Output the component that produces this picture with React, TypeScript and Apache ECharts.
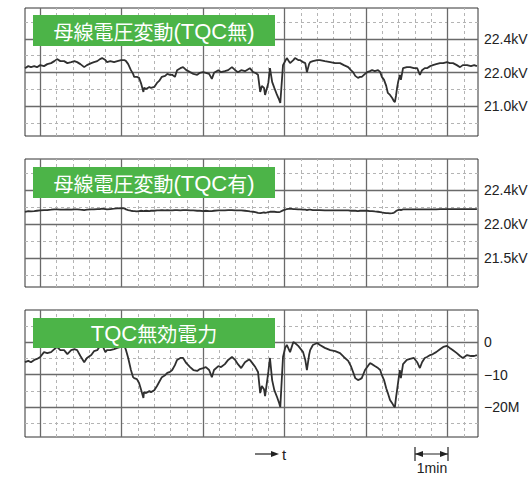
import React, { useEffect, useRef } from "react";
import * as echarts from "echarts";

// time axis in seconds (one minor division = 30 s, one major = 150 s)
const timeSec = [
  -28, -22, -17, -11, -6, 0, 7, 13, 20, 26,
  31, 37, 44, 50, 57, 63, 68, 74, 81, 86,
  94, 99, 105, 110, 114, 120, 123, 129, 136, 142,
  149, 155, 158, 162, 167, 171, 173, 178, 182, 186,
  190, 191, 195, 201, 204, 210, 215, 219, 224, 230,
  234, 239, 243, 248, 252, 258, 263, 269, 276, 282,
  289, 294, 300, 305, 311, 316, 320, 328, 333, 340,
  346, 353, 359, 364, 370, 377, 383, 386, 392, 396,
  401, 405, 408, 412, 414, 418, 420, 423, 427, 431,
  436, 440, 442, 447, 451, 454, 460, 466, 469, 475,
  478, 484, 488, 491, 495, 497, 502, 510, 515, 524,
  534, 543, 552, 559, 567, 572, 576, 580, 585, 589,
  592, 598, 602, 607, 611, 616, 622, 626, 629, 633,
  637, 640, 644, 648, 651, 653, 655, 657, 659, 662,
  664, 668, 675, 681, 688, 694, 699, 703, 708, 712,
  718, 723, 729, 736, 742, 749, 754, 760, 767, 773,
  778, 786, 793, 799, 804,
];

// bus voltage without TQC (chart divisions: 0 = 21.0kV, 1 = 22.0kV, 2 = 22.4kV)
const busVoltageNoTqc = [
  1.13, 1.19, 1.16, 1.19, 1.16, 1.22, 1.19, 1.25, 1.28, 1.34,
  1.4, 1.34, 1.34, 1.28, 1.31, 1.34, 1.31, 1.25, 1.16, 1.22,
  1.28, 1.31, 1.34, 1.4, 1.43, 1.37, 1.31, 1.34, 1.31, 1.34,
  1.37, 1.37, 1.34, 1.25, 1.07, 0.96, 0.87, 0.87, 0.84, 0.66,
  0.42, 0.54, 0.51, 0.57, 0.54, 0.57, 0.69, 0.75, 0.87, 0.9,
  0.96, 0.93, 0.93, 0.87, 1.07, 1.13, 1.16, 1.07, 1.01, 0.96,
  0.93, 0.99, 1.01, 0.99, 0.96, 0.81, 0.99, 1.07, 1.01, 1.04,
  1.07, 1.16, 1.07, 1.01, 1.07, 1.04, 1.1, 1.13, 1.01, 0.99,
  0.93, 0.42, 0.6, 0.54, 0.33, 0.57, 0.69, 1.13, 0.72, 0.54,
  0.33, 0.18, 0.09, 1.22, 1.34, 1.43, 1.28, 1.37, 1.43, 1.37,
  1.37, 1.31, 1.28, 1.01, 1.25, 1.31, 1.34, 1.37, 1.37, 1.34,
  1.31, 1.28, 1.28, 1.22, 1.16, 1.07, 1.01, 0.9, 0.84, 0.87,
  0.87, 0.96, 1.01, 1.04, 1.07, 1.04, 1.07, 1.01, 0.87, 0.78,
  0.6, 0.39, 0.33, 0.24, 0.15, 0.12, 0.3, 0.54, 0.72, 0.93,
  0.78, 1.13, 1.16, 1.16, 1.13, 1.13, 0.93, 1.07, 1.13, 1.13,
  1.19, 1.22, 1.25, 1.28, 1.28, 1.31, 1.28, 1.28, 1.22, 1.16,
  1.22, 1.22, 1.19, 1.22, 1.19,
];

// bus voltage with TQC (chart divisions: 0 = 21.5kV, 1 = 22.0kV, 2 = 22.4kV)
const busVoltageTqc = [
  1.36, 1.38, 1.37, 1.38, 1.39, 1.4, 1.41, 1.41, 1.42, 1.43,
  1.43, 1.42, 1.42, 1.43, 1.42, 1.43, 1.43, 1.42, 1.41, 1.42,
  1.43, 1.43, 1.44, 1.44, 1.45, 1.44, 1.43, 1.44, 1.45, 1.46,
  1.47, 1.46, 1.43, 1.41, 1.39, 1.38, 1.38, 1.37, 1.38, 1.39,
  1.38, 1.38, 1.39, 1.38, 1.39, 1.39, 1.4, 1.4, 1.41, 1.4,
  1.41, 1.4, 1.4, 1.41, 1.41, 1.4, 1.41, 1.41, 1.4, 1.4,
  1.39, 1.39, 1.38, 1.39, 1.38, 1.38, 1.39, 1.4, 1.4, 1.4,
  1.41, 1.41, 1.4, 1.4, 1.4, 1.39, 1.38, 1.37, 1.36, 1.35,
  1.33, 1.32, 1.33, 1.34, 1.33, 1.34, 1.35, 1.36, 1.36, 1.36,
  1.35, 1.35, 1.36, 1.4, 1.42, 1.44, 1.45, 1.44, 1.44, 1.43,
  1.43, 1.42, 1.42, 1.41, 1.42, 1.42, 1.41, 1.41, 1.41, 1.4,
  1.4, 1.4, 1.4, 1.4, 1.4, 1.39, 1.39, 1.39, 1.38, 1.39,
  1.39, 1.39, 1.39, 1.38, 1.38, 1.37, 1.36, 1.35, 1.34, 1.33,
  1.32, 1.32, 1.31, 1.32, 1.33, 1.35, 1.38, 1.4, 1.41, 1.42,
  1.41, 1.43, 1.43, 1.43, 1.43, 1.43, 1.43, 1.43, 1.43, 1.43,
  1.43, 1.43, 1.43, 1.44, 1.44, 1.44, 1.44, 1.44, 1.44, 1.44,
  1.44, 1.44, 1.44, 1.44, 1.44,
];

// TQC reactive power (Mvar)
const tqcReactivePower = [
  -6.2, -5.8, -6.2, -5.5, -5.2, -4.6, -3.1, -3.4, -3.1, -2.2,
  -1.5, -2.5, -2.5, -3.7, -2.5, -2.2, -2.5, -4.3, -6.2, -4.9,
  -4.0, -2.8, -2.5, -1.2, -0.9, -3.1, -2.5, -2.5, -2.2, -1.8,
  -1.5, -1.2, -2.5, -4.9, -8.6, -10.8, -11.1, -11.4, -12.6, -14.8,
  -17.2, -15.4, -15.7, -15.1, -15.4, -14.8, -13.5, -12.3, -10.8, -10.2,
  -9.5, -9.2, -8.6, -7.1, -5.5, -4.9, -4.9, -6.5, -7.7, -8.6,
  -8.9, -8.3, -8.0, -7.7, -8.6, -10.8, -8.6, -7.4, -7.7, -6.8,
  -5.5, -4.6, -5.5, -6.8, -8.0, -6.2, -5.5, -5.5, -6.8, -7.7,
  -9.2, -15.7, -13.5, -14.5, -16.6, -11.7, -9.2, -4.9, -11.7, -14.8,
  -16.9, -18.8, -20.0, -4.6, -1.8, -0.9, -3.1, 0.0, -0.3, -1.2,
  -1.8, -3.1, -5.5, -8.6, -4.0, -2.5, -0.9, -0.3, -0.9, -1.8,
  -2.5, -2.8, -3.4, -4.6, -5.8, -7.4, -9.2, -11.1, -11.7, -11.4,
  -11.1, -8.6, -7.7, -6.5, -6.8, -7.4, -8.0, -8.6, -10.2, -11.7,
  -14.2, -15.7, -17.8, -18.8, -19.7, -20.0, -17.2, -14.8, -12.3, -8.6,
  -11.1, -6.8, -5.5, -5.2, -4.9, -6.2, -8.0, -6.2, -4.9, -4.6,
  -4.0, -3.7, -3.1, -2.2, -1.5, -1.2, -1.8, -2.5, -3.4, -4.3,
  -4.9, -4.0, -4.3, -4.3, -4.0,
];

const majorTimes = [0, 150, 300, 450, 600, 750];
const minorTimes = [30, 60, 90, 120, 180, 210, 240, 270, 330, 360, 390, 420, 480, 510, 540, 570, 630, 660, 690, 720, 780];

// panel titles split into [text, style] runs (CJK / Latin)
const panelTitleRuns: [string, string][][] = [
  [["母線電圧変動", "cjk"], ["(TQC", "lat"], ["無", "cjk"], [")", "lat"]],
  [["母線電圧変動", "cjk"], ["(TQC", "lat"], ["有", "cjk"], [")", "lat"]],
  [["TQC", "lat"], ["無効電力", "cjk"]],
];
const panelSeries = [busVoltageNoTqc, busVoltageTqc, tqcReactivePower];
const panelTickValues = [
  [2, 1, 0],
  [2, 1, 0],
  [0, -10, -20],
];
const panelTickLabels = [
  ["22.4kV", "22.0kV", "21.0kV"],
  ["22.4kV", "22.0kV", "21.5kV"],
  ["0", "−10", "−20M"],
];
const panelMinorValues = [
  [-0.5, 0.5, 1.5, 2.5],
  [-0.5, 0.5, 1.5, 2.5],
  [-25, -15, -5, 5],
];
const panelYMin = [-0.895, -0.853, -29.2];
const panelYMax = [2.925, 2.912, 9.85];

const timeMin = -28;
const timeMax = 806;

const panelTops = [8, 159, 310];
const panelHeights = [128, 128, 127];
const GRID_LEFT = 25;
const GRID_WIDTH = 453;

const MAJOR_STYLE = { color: "#6a6a6a", width: 1.3, type: "solid" as const };
const MINOR_STYLE = { color: "#b4b4b4", width: 1, type: [3, 3] as any };
const LABEL_FONT = "Liberation Sans, Arial, sans-serif";
const GREEN = "#4cb448";

export default function App() {
  const ref = useRef<HTMLDivElement>(null);

  useEffect(() => {
    if (!ref.current) return;
    const chart = echarts.init(ref.current, undefined, { renderer: "svg" });

    const grids = panelTops.map((top, i) => ({
      left: GRID_LEFT,
      top,
      width: GRID_WIDTH,
      height: panelHeights[i],
      show: true,
      backgroundColor: "#fff",
      borderColor: "#333",
      borderWidth: 1,
    }));

    const xAxes = panelTops.map((_, i) => ({
      type: "value",
      gridIndex: i,
      min: timeMin,
      max: timeMax,
      show: false,
    }));

    const yAxes = panelTops.map((_, i) => ({
      type: "value",
      gridIndex: i,
      min: panelYMin[i],
      max: panelYMax[i],
      show: false,
    }));

    const series = panelSeries.map((vals, i) => {
      const markData: any[] = [];
      minorTimes.forEach((t) => markData.push({ xAxis: t, lineStyle: MINOR_STYLE, label: { show: false } }));
      panelMinorValues[i].forEach((v) => markData.push({ yAxis: v, lineStyle: MINOR_STYLE, label: { show: false } }));
      majorTimes.forEach((t) => markData.push({ xAxis: t, lineStyle: MAJOR_STYLE, label: { show: false } }));
      panelTickValues[i].forEach((v, k) =>
        markData.push({
          yAxis: v,
          name: panelTickLabels[i][k],
          lineStyle: MAJOR_STYLE,
          label: {
            show: true,
            position: "end",
            formatter: panelTickLabels[i][k],
            color: "#222",
            fontSize: 14,
            fontFamily: LABEL_FONT,
            distance: 6,
          },
        })
      );
      return {
        type: "line",
        xAxisIndex: i,
        yAxisIndex: i,
        data: timeSec.map((t, k) => [t, vals[k]]),
        showSymbol: false,
        symbol: "none",
        silent: true,
        z: 3,
        lineStyle: { color: "#303030", width: 1.8 },
        markLine: {
          silent: true,
          symbol: ["none", "none"],
          z: 1,
          animation: false,
          emphasis: { disabled: true },
          data: markData,
        },
      };
    });

    const graphics: any[] = [];
    panelTops.forEach((top, i) => {
      const boxTop = top + (i === 0 ? 7 : 8);
      const boxH = i === 2 ? 30 : 31;
      graphics.push({
        type: "rect",
        z: 100,
        shape: { x: 33, y: boxTop, width: 242, height: boxH },
        style: { fill: GREEN },
      });
      graphics.push({
        type: "text",
        z: 101,
        x: 154,
        y: boxTop + boxH / 2 + 0.5,
        style: {
          text: panelTitleRuns[i].map(([s, k]) => `{${k}|${s}}`).join(""),
          align: "center",
          verticalAlign: "middle",
          rich: {
            cjk: {
              fill: "#fff",
              fontSize: 20,
              fontFamily: '"Noto Sans CJK JP", sans-serif',
              lineHeight: 26,
              verticalAlign: "middle",
            },
            lat: {
              fill: "#fff",
              fontSize: 22,
              fontFamily: LABEL_FONT,
              lineHeight: 26,
              verticalAlign: "middle",
            },
          },
        },
      });
    });

    // time direction arrow
    graphics.push({
      type: "line",
      z: 100,
      shape: { x1: 255, y1: 454, x2: 273, y2: 454 },
      style: { stroke: "#222", lineWidth: 1.2 },
    });
    graphics.push({
      type: "polygon",
      z: 100,
      shape: { points: [[271, 451], [279, 454], [271, 457]] },
      style: { fill: "#222" },
    });
    graphics.push({
      type: "text",
      z: 100,
      x: 282,
      y: 454,
      style: { text: "t", fill: "#222", fontSize: 15, fontFamily: LABEL_FONT, verticalAlign: "middle" },
    });

    // 1 min scale bar
    graphics.push({ type: "line", z: 100, shape: { x1: 415, y1: 447, x2: 415, y2: 461 }, style: { stroke: "#222", lineWidth: 1.2 } });
    graphics.push({ type: "line", z: 100, shape: { x1: 448, y1: 447, x2: 448, y2: 461 }, style: { stroke: "#222", lineWidth: 1.2 } });
    graphics.push({ type: "line", z: 100, shape: { x1: 415, y1: 454, x2: 448, y2: 454 }, style: { stroke: "#222", lineWidth: 1.2 } });
    graphics.push({
      type: "polygon",
      z: 100,
      shape: { points: [[415, 454], [423, 451], [423, 457]] },
      style: { fill: "#222" },
    });
    graphics.push({
      type: "polygon",
      z: 100,
      shape: { points: [[448, 454], [440, 451], [440, 457]] },
      style: { fill: "#222" },
    });
    graphics.push({
      type: "text",
      z: 100,
      x: 432,
      y: 468,
      style: {
        text: "1min",
        fill: "#222",
        fontSize: 14,
        lineHeight: 14,
        fontFamily: LABEL_FONT,
        align: "center",
        verticalAlign: "middle",
      },
    });

    chart.setOption({
      animation: false,
      backgroundColor: "#fff",
      grid: grids,
      xAxis: xAxes,
      yAxis: yAxes,
      series,
      graphic: graphics,
    });

    return () => chart.dispose();
  }, []);

  return (
    <div
      ref={ref}
      style={{ position: "fixed", left: 0, top: 0, width: 528, height: 477, background: "#fff" }}
    />
  );
}
